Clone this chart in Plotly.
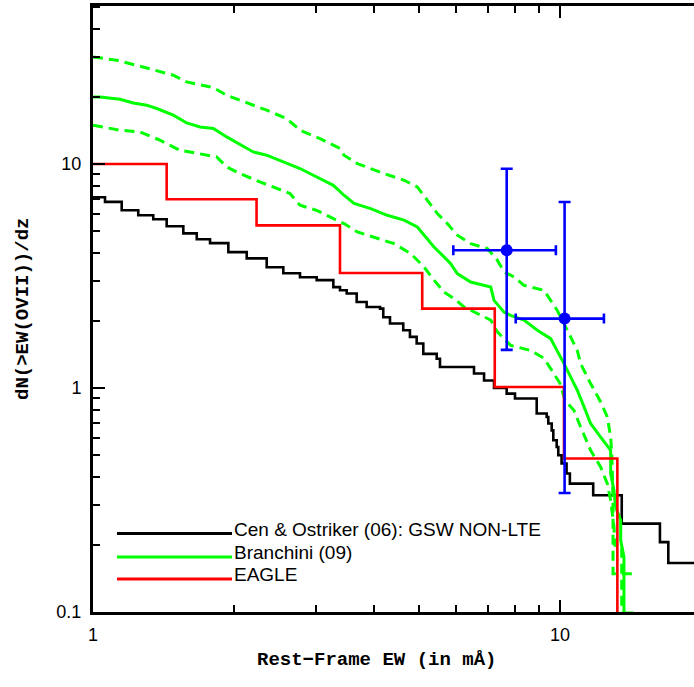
import plotly.graph_objects as go

# ---------------- data ----------------
# Cen & Ostriker (06): GSW NON-LTE  (step curve, level starts at x)
cen_x = [1.0, 1.061, 1.152, 1.250, 1.346, 1.438, 1.561, 1.668, 1.781, 1.949,
         2.134, 2.355, 2.556, 2.775, 3.013, 3.271, 3.380, 3.494, 3.670, 3.855,
         4.118, 4.184, 4.325, 4.617, 4.772, 4.933, 5.097, 5.445, 5.534, 6.545,
         6.877, 7.224, 7.689, 8.010, 8.916, 9.366, 9.440, 9.601, 9.676, 9.838,
         9.917, 10.08, 10.33, 10.50, 11.78, 13.56, 16.37, 17.06, 20.0]
cen_y = [7.10, 6.77, 6.21, 5.90, 5.66, 5.27, 4.90, 4.61, 4.43, 4.04,
         3.79, 3.46, 3.25, 3.12, 3.03, 2.82, 2.73, 2.64, 2.42, 2.30,
         2.26, 2.07, 1.94, 1.81, 1.69, 1.58, 1.42, 1.35, 1.24, 1.16,
         1.08, 1.00, 0.944, 0.897, 0.769, 0.742, 0.694, 0.647, 0.584, 0.545,
         0.501, 0.460, 0.415, 0.374, 0.332, 0.248, 0.205, 0.1655, 0.1655]

# Branchini (09) median
br_x = [1.0, 1.035, 1.142, 1.220, 1.303, 1.369, 1.486, 1.587, 1.695, 1.810,
        1.933, 2.064, 2.204, 2.355, 2.556, 2.775, 2.963, 3.271, 3.447, 3.622,
        3.932, 4.267, 4.634, 4.948, 5.158, 5.373, 5.644, 5.834, 6.026, 6.439,
        7.107, 7.224, 7.587, 7.841, 8.374, 8.943, 9.552, 9.867, 10.20, 10.54,
        10.89, 11.26, 11.63, 12.22, 12.84, 12.84, 13.05, 13.16, 13.49, 13.49,
        13.71, 13.71, 14.40]
br_y = [19.91, 19.91, 19.45, 18.72, 18.29, 17.68, 16.50, 15.24, 14.63, 14.39,
        13.20, 12.24, 11.31, 10.94, 10.21, 9.54, 8.90, 8.03, 7.25, 6.66,
        6.32, 5.90, 5.61, 5.23, 4.72, 4.26, 3.85, 3.59, 3.24, 2.97,
        2.82, 2.46, 2.18, 2.11, 2.01, 1.81, 1.66, 1.47, 1.285, 1.12,
        0.977, 0.823, 0.694, 0.604, 0.527, 0.415, 0.349, 0.294, 0.257, 0.209,
        0.176, 0.099, 0.099]

# Branchini (09) upper bound
br_up_x = [1.0, 1.124, 1.261, 1.486, 1.587, 1.810, 1.933, 2.064, 2.355, 2.598,
           2.775, 3.063, 3.380, 3.447, 3.681, 4.198, 4.634, 4.948, 5.199, 5.461,
           5.736, 6.026, 6.439, 6.989, 7.342, 7.587, 7.971, 8.374, 9.241, 9.552,
           9.867, 10.54, 10.89, 11.07, 11.63, 12.22, 12.63, 12.84, 12.92, 12.99,
           12.99, 14.33]
br_up_y = [30.04, 29.03, 27.31, 24.89, 23.23, 21.93, 20.26, 19.25, 17.37, 15.95,
           14.14, 12.98, 11.72, 10.94, 10.04, 9.06, 8.46, 7.90, 6.88, 6.01,
           5.42, 4.81, 4.41, 4.19, 3.72, 3.30, 3.13, 2.87, 2.73, 2.46,
           2.22, 1.69, 1.47, 1.285, 1.046, 0.866, 0.742, 0.604, 0.492, 0.315,
           0.148, 0.148]

# Branchini (09) lower bound
br_lo_x = [1.0, 1.142, 1.261, 1.391, 1.536, 1.695, 1.840, 1.933, 2.064, 2.278,
           2.433, 2.642, 2.775, 3.013, 3.271, 3.447, 3.681, 4.063, 4.411, 4.789,
           5.115, 5.373, 5.644, 5.929, 6.229, 6.651, 7.107, 7.342, 7.841, 8.656,
           9.241, 9.661, 10.0, 10.25, 10.71, 11.07, 11.63, 12.22, 12.63, 12.84,
           13.05, 13.11, 13.56, 13.56]
br_lo_y = [14.89, 14.14, 13.90, 12.76, 11.51, 11.13, 10.75, 9.70, 9.06, 8.31,
           7.90, 7.38, 6.54, 6.21, 5.70, 5.42, 4.97, 4.65, 4.41, 3.98,
           3.47, 3.03, 2.68, 2.51, 2.30, 2.15, 2.01, 1.78, 1.55, 1.47,
           1.357, 1.175, 1.049, 0.881, 0.795, 0.670, 0.527, 0.444, 0.374, 0.315,
           0.240, 0.1985, 0.1985, 0.05]

# EAGLE (histogram steps: bin left edges and levels)
eagle_x = [1.0, 1.438, 2.24, 3.38, 5.07, 7.25, 10.2, 13.27]
eagle_y = [10.0, 6.96, 5.32, 3.26, 2.26, 1.01, 0.484, 0.01]

# Observed points
obs_x = [7.69, 10.23]
obs_y = [4.12, 2.04]
obs_x_lo = [5.91, 8.04]
obs_x_hi = [9.80, 12.42]
obs_y_lo = [1.48, 0.34]
obs_y_hi = [9.52, 6.76]

# ticks
x_tickvals = [1, 10]
x_ticktext = ["1", "10"]
y_tickvals = [0.1, 1, 10]
y_ticktext = ["0.1", "1", "10"]

legend_names = ["Cen & Ostriker (06): GSW NON-LTE", "Branchini (09)", "EAGLE"]
legend_colors = ["black", "#00ff00", "#ff0000"]

GREEN = "#00ff00"
RED = "#ff0000"
BLUE = "#0000ff"

# ---------------- figure ----------------
fig = go.Figure()

fig.add_trace(go.Scatter(x=cen_x, y=cen_y, mode="lines",
                         line=dict(color="black", width=2.6, shape="hv"),
                         showlegend=False, hoverinfo="skip"))
fig.add_trace(go.Scatter(x=br_up_x, y=br_up_y, mode="lines",
                         line=dict(color=GREEN, width=3, dash="10px,6px"),
                         showlegend=False, hoverinfo="skip"))
fig.add_trace(go.Scatter(x=br_lo_x, y=br_lo_y, mode="lines",
                         line=dict(color=GREEN, width=3, dash="10px,6px"),
                         showlegend=False, hoverinfo="skip"))
fig.add_trace(go.Scatter(x=br_x, y=br_y, mode="lines",
                         line=dict(color=GREEN, width=3),
                         showlegend=False, hoverinfo="skip"))
fig.add_trace(go.Scatter(x=eagle_x, y=eagle_y, mode="lines",
                         line=dict(color=RED, width=2.6, shape="hv"),
                         showlegend=False, hoverinfo="skip"))

fig.add_trace(go.Scatter(
    x=obs_x, y=obs_y, mode="markers",
    marker=dict(color=BLUE, size=12, symbol="circle"),
    error_x=dict(type="data", symmetric=False,
                 array=[h - c for h, c in zip(obs_x_hi, obs_x)],
                 arrayminus=[c - l for c, l in zip(obs_x, obs_x_lo)],
                 color=BLUE, thickness=2.6, width=5),
    error_y=dict(type="data", symmetric=False,
                 array=[h - c for h, c in zip(obs_y_hi, obs_y)],
                 arrayminus=[c - l for c, l in zip(obs_y, obs_y_lo)],
                 color=BLUE, thickness=2.6, width=6),
    showlegend=False, hoverinfo="skip"))

tickfont = dict(family="Liberation Sans, Arial, sans-serif", size=18, color="black")
x_minor = [k * 10 ** e for e in (0,) for k in range(2, 10)]
y_minor = [k * 10 ** e for e in (-1, 0, 1) for k in range(2, 10)]

fig.update_layout(
    width=694, height=687,
    margin=dict(l=93, r=0, t=6, b=75),
    paper_bgcolor="white", plot_bgcolor="white",
    showlegend=False,
    xaxis=dict(type="log", range=[0, 1.287],
               tickmode="array", tickvals=x_tickvals, ticktext=x_ticktext,
               ticks="inside", ticklen=12, tickwidth=2, tickcolor="black",
               showline=True, linewidth=3, linecolor="black", mirror="ticks",
               showgrid=False, zeroline=False, tickfont=tickfont,
               ticklabelstandoff=4, automargin=False,
               minor=dict(tickmode="array", tickvals=x_minor, ticks="inside",
                          ticklen=7, tickwidth=2, tickcolor="black", showgrid=False)),
    yaxis=dict(type="log", range=[-1, 1.705],
               tickmode="array", tickvals=y_tickvals, ticktext=y_ticktext,
               ticks="inside", ticklen=12, tickwidth=2, tickcolor="black",
               showline=True, linewidth=3, linecolor="black", mirror=False,
               showgrid=False, zeroline=False, tickfont=tickfont,
               ticklabelstandoff=5, automargin=False,
               minor=dict(tickmode="array", tickvals=y_minor, ticks="inside",
                          ticklen=7, tickwidth=2, tickcolor="black", showgrid=False)),
    yaxis2=dict(type="log", range=[-1, 1.705], overlaying="y", side="right",
                anchor="x", tickmode="array", tickvals=[1, 10],
                ticks="inside", ticklen=5, tickwidth=2, tickcolor="black",
                showticklabels=False, showline=False, showgrid=False,
                zeroline=False, automargin=False),
)

# axis titles
title_font = dict(family="Liberation Mono, Courier New, monospace", size=19,
                  color="black", weight="bold")
fig.add_annotation(text="Rest\u2212Frame EW (in m\u00c5)", xref="paper", yref="paper",
                   x=0.472, y=-0.0797, xanchor="center", yanchor="middle",
                   showarrow=False, font=title_font)
fig.add_annotation(text="dN(>EW(OVII))/dz", xref="paper", yref="paper",
                   x=-0.1165, y=0.5, xanchor="center", yanchor="middle",
                   textangle=-90, showarrow=False, font=title_font)

# legend drawn inside the plot
leg_line_y = [0.1294, 0.0908, 0.0545]
leg_text_y = [0.1356, 0.0977, 0.0614]
legend_font = dict(family="Liberation Sans, Arial, sans-serif", size=19, color="black")
for name, col, ly, ty in zip(legend_names, legend_colors, leg_line_y, leg_text_y):
    fig.add_shape(type="line", xref="paper", yref="paper",
                  x0=0.0399, x1=0.2313, y0=ly, y1=ly,
                  line=dict(color=col, width=3))
    fig.add_annotation(text=name, xref="paper", yref="paper",
                       x=0.232, y=ty, xanchor="left", yanchor="middle",
                       showarrow=False, font=legend_font)

fig.write_html("out.html",
               config={"displayModeBar": False},
               post_script="document.body.style.margin='0';"
                           "document.body.style.overflow='hidden';")
